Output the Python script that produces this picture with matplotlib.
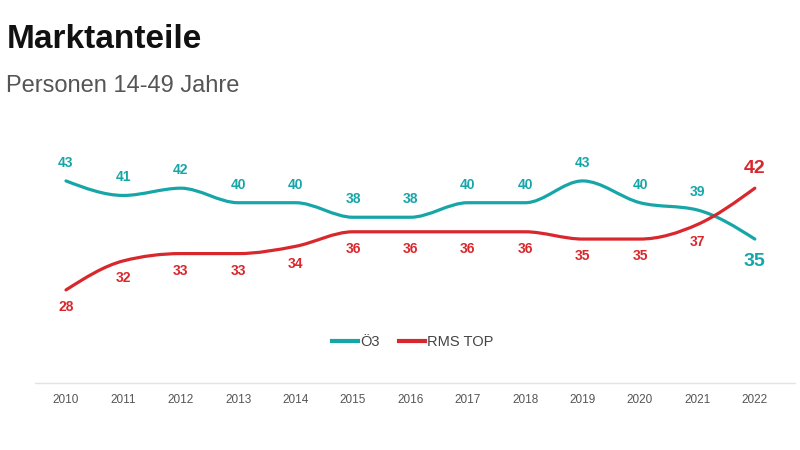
import matplotlib
matplotlib.use("Agg")
import matplotlib.pyplot as plt
from matplotlib.path import Path
from matplotlib.patches import PathPatch
from matplotlib.lines import Line2D
import numpy as np

years = [2010, 2011, 2012, 2013, 2014, 2015, 2016, 2017, 2018, 2019, 2020, 2021, 2022]
oe3 = [43, 41, 42, 40, 40, 38, 38, 40, 40, 43, 40, 39, 35]
rms_top = [28, 32, 33, 33, 34, 36, 36, 36, 36, 35, 35, 37, 42]
series_names = ["Ö3", "RMS TOP"]

TEAL = "#17a6a8"
RED = "#d8282d"

plt.rcParams["font.family"] = ["Liberation Sans", "DejaVu Sans"]


def monotone_path(x, y):
    # monotone cubic (like d3 curveMonotoneX) as bezier segments
    x = np.asarray(x, float)
    y = np.asarray(y, float)
    n = len(x)
    h = np.diff(x)
    s = np.diff(y) / h
    t = np.zeros(n)
    for i in range(1, n - 1):
        if s[i - 1] * s[i] <= 0:
            t[i] = 0
        else:
            p = (s[i - 1] * h[i] + s[i] * h[i - 1]) / (h[i - 1] + h[i])
            t[i] = np.sign(s[i - 1]) * min(abs(s[i - 1]), abs(s[i]), 0.5 * abs(p)) * 2
    t[0] = (3 * s[0] - t[1]) / 2 if n > 2 else s[0]
    t[-1] = (3 * s[-1] - t[-2]) / 2 if n > 2 else s[-1]
    verts = [(x[0], y[0])]
    codes = [Path.MOVETO]
    for i in range(n - 1):
        dx = h[i] / 3
        verts += [(x[i] + dx, y[i] + dx * t[i]),
                  (x[i + 1] - dx, y[i + 1] - dx * t[i + 1]),
                  (x[i + 1], y[i + 1])]
        codes += [Path.CURVE4] * 3
    return Path(verts, codes)


fig = plt.figure(figsize=(8, 4.5), dpi=100)
ax = fig.add_axes([0.04375, 0.149, 0.95, 0.562])
ax.set_xlim(2009.46, 2022.70)
ax.set_ylim(15.2, 50.0)

# (values, colour, labels above?, end label above?)
for vals, color, above, end_above in [(oe3, TEAL, True, False), (rms_top, RED, False, True)]:
    patch = PathPatch(monotone_path(years, vals), facecolor="none",
                      edgecolor=color, lw=2.3, capstyle="round")
    ax.add_patch(patch)
    for i, (xv, v) in enumerate(zip(years, vals)):
        last = i == len(years) - 1
        off = 13 if above else -12.5
        if last:
            off = 14.5 if end_above else -16.5
        ax.annotate(str(v), (xv, v), xytext=(0, off), textcoords="offset points",
                    ha="center", va="center", color=color,
                    fontsize=14 if last else 10, fontweight="bold")

for sp in ["top", "left", "right"]:
    ax.spines[sp].set_visible(False)
ax.spines["bottom"].set_color("#e3e3e3")
ax.spines["bottom"].set_linewidth(1)
ax.set_yticks([])
ax.set_xticks(years)
ax.set_xticklabels([str(y) for y in years],
                   family=["Liberation Sans Narrow", "Liberation Sans", "DejaVu Sans"])
ax.tick_params(axis="x", length=0, pad=8, labelsize=8.5, labelcolor="#555555")

handles = [Line2D([], [], color=TEAL, lw=3), Line2D([], [], color=RED, lw=3)]
fig.legend(handles, series_names, loc="center", bbox_to_anchor=(0.516, 0.24),
           ncol=2, frameon=False, handlelength=1.8, handletextpad=0.15,
           columnspacing=1.3, prop={"size": 10.5}, labelcolor="#444444")

fig.text(0.008, 0.912, "Marktanteile", fontsize=24, fontweight="bold",
         color="#111111", va="center", ha="left")
fig.text(0.008, 0.808, "Personen 14-49 Jahre", fontsize=17,
         color="#555555", va="center", ha="left")

fig.savefig("out.png", dpi=100)
